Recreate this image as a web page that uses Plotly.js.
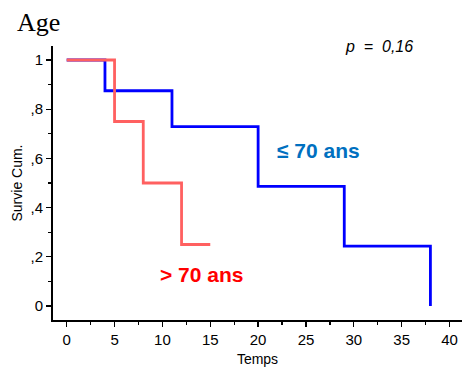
<!DOCTYPE html>
<html><head><meta charset="utf-8">
<script src="https://cdn.plot.ly/plotly-3.0.1.min.js"></script>
<style>html,body{margin:0;padding:0;background:#fff;}#chart{width:462px;height:374px;}</style>
</head><body><div id="chart"></div>
<script>
// Kaplan-Meier data
const timeLe70 = [0, 4, 11, 20, 29, 38];
const survLe70 = [1, 0.875, 0.729, 0.486, 0.243, 0];
const timeGt70 = [0, 5, 8, 12, 15];
const survGt70 = [1, 0.75, 0.5, 0.25, 0.25];
const yTickVals = [0, 0.2, 0.4, 0.6, 0.8, 1];
const yTickText = ['0', ',2', ',4', ',6', ',8', '1'];
const xTickVals = [0, 5, 10, 15, 20, 25, 30, 35, 40];

const traces = [
  {x: timeLe70, y: survLe70, type: 'scatter', mode: 'lines', line: {shape: 'hv', color: 'rgb(0,0,255)', width: 2.8}, name: '≤ 70 ans'},
  {x: timeGt70, y: survGt70, type: 'scatter', mode: 'lines', line: {shape: 'hv', color: 'rgb(255,96,96)', width: 2.8}, name: '> 70 ans'}
];
const fam = 'Liberation Sans, Arial, sans-serif';
const layout = {
  width: 462, height: 374,
  margin: {l: 53, r: 0, t: 46, b: 54, pad: 0},
  paper_bgcolor: '#fff', plot_bgcolor: '#fff',
  showlegend: false,
  font: {family: fam, size: 15, color: '#000'},
  title: {text: 'Age', x: 17/462, xanchor: 'left', xref: 'container', y: 1 - 22/374, yanchor: 'middle', yref: 'container',
          font: {family: 'Liberation Serif, Times New Roman, serif', size: 26, color: '#000'}},
  xaxis: {range: [-1.43, 41.3], tickvals: xTickVals, showgrid: false, zeroline: false,
          showline: true, linecolor: '#000', linewidth: 2, ticks: 'outside', ticklen: 5, tickwidth: 1.3, tickcolor: '#000',
          minor: {dtick: 2.5, tick0: 0, ticks: 'outside', ticklen: 3, tickcolor: '#000', tickwidth: 1.2},
          tickfont: {size: 15}, title: {text: 'Temps', font: {size: 14}, standoff: 7}},
  yaxis: {range: [-0.057, 1.057], tickvals: yTickVals, ticktext: yTickText, showgrid: false, zeroline: false,
          showline: true, linecolor: '#000', linewidth: 2, ticks: 'outside', ticklen: 5, tickwidth: 1.3, tickcolor: '#000',
          minor: {dtick: 0.1, tick0: 0, ticks: 'outside', ticklen: 3, tickcolor: '#000', tickwidth: 1.2},
          tickfont: {size: 15}, title: {text: 'Survie Cum.', font: {size: 14}, standoff: 5}},
  annotations: [
    {x: 32.6, y: 1.053, xref: 'x', yref: 'y', text: '<i>p  =  0,16</i>', showarrow: false, font: {size: 16, color: '#000'}},
    {x: 26.3, y: 0.634, xref: 'x', yref: 'y', text: '<b>≤ 70 ans</b>', showarrow: false, font: {size: 21, color: 'rgb(0,112,192)'}},
    {x: 14.1, y: 0.126, xref: 'x', yref: 'y', text: '<b>> 70 ans</b>', showarrow: false, font: {size: 21, color: 'rgb(255,0,0)'}}
  ]
};
Plotly.newPlot('chart', traces, layout, {displayModeBar: false, staticPlot: true});
</script></body></html>
